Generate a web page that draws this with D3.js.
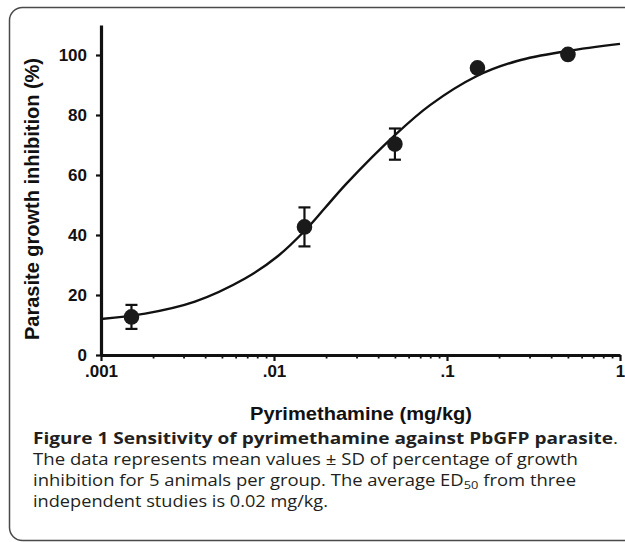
<!DOCTYPE html>
<html>
<head>
<meta charset="utf-8">
<script src="https://cdn.jsdelivr.net/npm/d3@7"></script>
<style>
  html, body { margin: 0; padding: 0; background: #fff; }
  svg { display: block; }
</style>
</head>
<body>
<svg id="chart" width="625" height="542"></svg>
<script>
// ---- data ----
const doseX = [0.0015, 0.015, 0.05, 0.15, 0.5];          // mg/kg
const inhibitionY = [12.7, 42.7, 70.3, 95.7, 100.2];      // % mean
const inhibitionSD = [4.0, 6.5, 5.2, 0, 0];               // % SD
// fitted curve
const curveX = [0.001, 0.0018, 0.00349, 0.0068, 0.01055, 0.0151, 0.0197, 0.0264, 0.050, 0.0798, 0.149, 0.254, 0.494, 1.0];
const curveY = [12.0, 13.8, 17.8, 25.5, 33.0, 41.5, 49.0, 57.3, 73.3, 83.3, 93.0, 98.0, 101.3, 103.7];
const xTickValues = [0.001, 0.01, 0.1, 1];
const xTickLabels = [".001", ".01", ".1", "1"];
const yTickValues = [0, 20, 40, 60, 80, 100];
const xTitle = "Pyrimethamine (mg/kg)";
const yTitle = "Parasite growth inhibition (%)";

const svg = d3.select("#chart");

// frame
svg.append("rect")
  .attr("x", 9.5).attr("y", 7.5).attr("width", 640).attr("height", 533)
  .attr("rx", 13).attr("ry", 13)
  .attr("fill", "none").attr("stroke", "#4a4a4a").attr("stroke-width", 1.5);

const x = d3.scaleLog().domain([0.001, 1]).range([101, 620]);
const y = d3.scaleLinear().domain([0, 110]).range([355, 25]);

const axisFont = "'Liberation Sans', Arial, sans-serif";

// minor x ticks
const minor = [];
for (let d = 0.001; d < 1; d *= 10) for (let k = 2; k <= 9; k++) minor.push(d * k);
svg.append("g")
  .attr("transform", "translate(0,355)")
  .call(d3.axisBottom(x).tickValues(minor).tickSize(3.5).tickSizeOuter(0).tickFormat(""))
  .call(g => g.select(".domain").remove())
  .call(g => g.selectAll(".tick line").attr("stroke", "#111").attr("stroke-width", 1.8));

// major x axis
svg.append("g")
  .attr("transform", "translate(0,355)")
  .call(d3.axisBottom(x).tickValues(xTickValues).tickSize(6).tickSizeOuter(0)
        .tickFormat((d, i) => xTickLabels[i]).tickPadding(4))
  .call(g => g.select(".domain").attr("stroke", "#111").attr("stroke-width", 2.8))
  .call(g => g.selectAll(".tick line").attr("stroke", "#111").attr("stroke-width", 2.2))
  .call(g => g.selectAll(".tick text").attr("fill", "#111")
        .style("font-family", axisFont).style("font-size", "17px").style("font-weight", "bold"));

// y axis
svg.append("g")
  .attr("transform", "translate(101,0)")
  .call(d3.axisLeft(y).tickValues(yTickValues).tickSize(5).tickSizeOuter(0).tickPadding(9))
  .call(g => g.select(".domain").attr("stroke", "#111").attr("stroke-width", 3.2))
  .call(g => g.selectAll(".tick line").attr("stroke", "#111").attr("stroke-width", 2.2))
  .call(g => g.selectAll(".tick text").attr("fill", "#111")
        .style("font-family", axisFont).style("font-size", "17px").style("font-weight", "bold"));

// axis titles
svg.append("text")
  .attr("x", 361).attr("y", 420)
  .attr("text-anchor", "middle")
  .attr("textLength", 222).attr("lengthAdjust", "spacingAndGlyphs")
  .style("font-family", axisFont).style("font-size", "19px").style("font-weight", "bold")
  .attr("fill", "#111").text(xTitle);

svg.append("text")
  .attr("transform", "translate(39,199) rotate(-90)")
  .attr("text-anchor", "middle")
  .attr("textLength", 282).attr("lengthAdjust", "spacingAndGlyphs")
  .style("font-family", axisFont).style("font-size", "20px").style("font-weight", "bold")
  .attr("fill", "#111").text(yTitle);

// fitted curve
const curvePts = curveX.map((v, i) => [v, curveY[i]]);
svg.append("path")
  .datum(curvePts)
  .attr("fill", "none").attr("stroke", "#111").attr("stroke-width", 2.4)
  .attr("d", d3.line().x(d => x(d[0])).y(d => y(d[1])).curve(d3.curveCatmullRom.alpha(0.5)));

// error bars
const pts = doseX.map((v, i) => ({ x: v, y: inhibitionY[i], sd: inhibitionSD[i] }));
const eb = svg.append("g").attr("stroke", "#111").attr("stroke-width", 2.2);
pts.filter(d => d.sd > 0).forEach(d => {
  const cx = x(d.x);
  eb.append("line").attr("x1", cx).attr("x2", cx).attr("y1", y(d.y + d.sd)).attr("y2", y(d.y - d.sd));
  eb.append("line").attr("x1", cx - 6).attr("x2", cx + 6).attr("y1", y(d.y + d.sd)).attr("y2", y(d.y + d.sd));
  eb.append("line").attr("x1", cx - 6).attr("x2", cx + 6).attr("y1", y(d.y - d.sd)).attr("y2", y(d.y - d.sd));
});

// points
svg.append("g").selectAll("circle").data(pts).join("circle")
  .attr("cx", d => x(d.x)).attr("cy", d => y(d.y)).attr("r", 7.8)
  .attr("fill", "#1a1a1a");

// caption
const capFont = "'Open Sans', 'Noto Sans', sans-serif";
const cap = svg.append("g").attr("fill", "#231f20")
  .style("font-family", capFont).style("font-size", "16.5px");

const l1 = cap.append("text").attr("x", 33).attr("y", 444)
  .attr("textLength", 585).attr("lengthAdjust", "spacingAndGlyphs");
l1.append("tspan").style("font-weight", "bold").text("Figure 1 Sensitivity of pyrimethamine against PbGFP parasite");
l1.append("tspan").text(".");

cap.append("text").attr("x", 33).attr("y", 465)
  .attr("textLength", 545).attr("lengthAdjust", "spacingAndGlyphs")
  .text("The data represents mean values \u00b1 SD of percentage of growth");

const l3 = cap.append("text").attr("x", 33).attr("y", 486)
  .attr("textLength", 543).attr("lengthAdjust", "spacingAndGlyphs");
l3.append("tspan").text("inhibition for 5 animals per group. The average ED");
l3.append("tspan").attr("dy", 3).style("font-size", "11.5px").text("50");
l3.append("tspan").attr("dy", -3).text(" from three");

cap.append("text").attr("x", 33).attr("y", 507)
  .attr("textLength", 295).attr("lengthAdjust", "spacingAndGlyphs")
  .text("independent studies is 0.02 mg/kg.");
</script>
</body>
</html>
